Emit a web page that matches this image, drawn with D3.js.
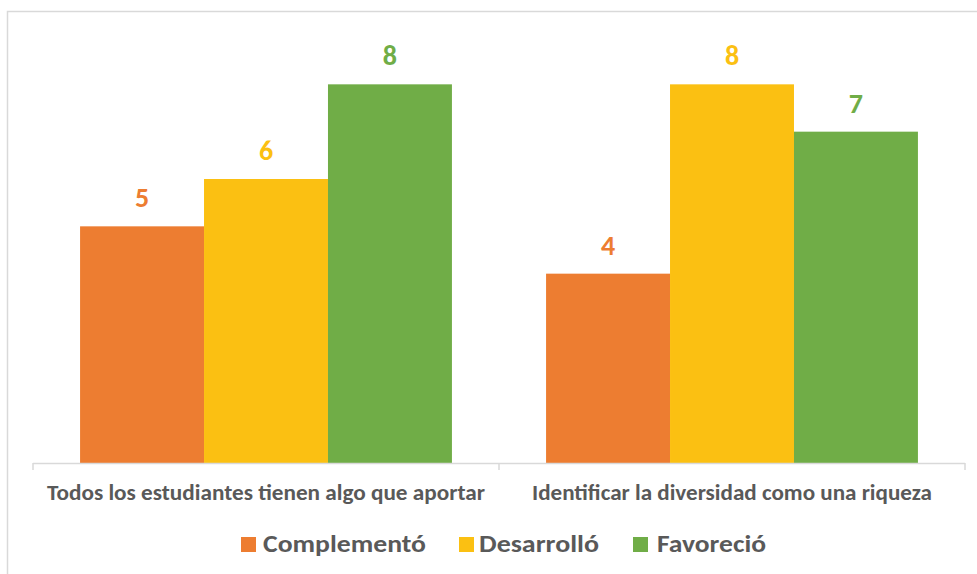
<!DOCTYPE html>
<html>
<head>
<meta charset="utf-8">
<script src="https://cdn.jsdelivr.net/npm/d3@7"></script>
<style>
  html, body { margin: 0; padding: 0; background: #ffffff; }
  svg { display: block; }
  text { font-family: Calibri, Carlito, "Open Sans", sans-serif; font-weight: 700; }
</style>
</head>
<body>
<svg id="chart" width="977" height="574"></svg>
<script>
// Categories, series and values
const categories = [
  "Todos los estudiantes tienen algo que aportar",
  "Identificar la diversidad como una riqueza"
];
const categoryWidths = [438, 400];
const seriesNames = ["Complementó", "Desarrolló", "Favoreció"];
const legendWidths = [163, 120, 109];
const seriesColors = ["#ED7D31", "#FBC012", "#70AD47"];
const complemento = [5, 4];
const desarrollo = [6, 8];
const favorecio = [8, 7];
const seriesValues = [complemento, desarrollo, favorecio];

const W = 977, H = 574;
const plot = { left: 33, right: 965, top: 37, bottom: 463 };
const textGray = "#595959";
const lineGray = "#D9D9D9";

const svg = d3.select("#chart");

// Outer chart frame
svg.append("rect")
  .attr("x", 7.5).attr("y", 11.5)
  .attr("width", W + 20).attr("height", H + 20)
  .attr("fill", "#ffffff")
  .attr("stroke", lineGray)
  .attr("stroke-width", 1.5);

const x0 = d3.scaleBand().domain(categories).range([plot.left, plot.right]).padding(0);
const gap = x0.bandwidth() * 0.101;
const x1 = d3.scaleBand().domain(seriesNames).range([gap, x0.bandwidth() - gap]).padding(0);
const y = d3.scaleLinear().domain([0, 9]).range([plot.bottom, plot.top]);

// Bars
const groups = svg.append("g").selectAll("g")
  .data(categories)
  .join("g")
  .attr("transform", d => `translate(${x0(d)},0)`);

groups.selectAll("rect")
  .data((c, ci) => seriesNames.map((s, si) => ({ s, si, v: seriesValues[si][ci] })))
  .join("rect")
  .attr("x", d => x1(d.s))
  .attr("y", d => y(d.v))
  .attr("width", x1.bandwidth())
  .attr("height", d => y(0) - y(d.v))
  .attr("fill", d => seriesColors[d.si]);

// Value labels
groups.selectAll("text.val")
  .data((c, ci) => seriesNames.map((s, si) => ({ s, si, v: seriesValues[si][ci] })))
  .join("text")
  .attr("class", "val")
  .attr("x", d => x1(d.s) + x1.bandwidth() / 2)
  .attr("y", d => y(d.v) - 19)
  .attr("text-anchor", "middle")
  .attr("font-size", 28)
  .attr("fill", d => seriesColors[d.si])
  .text(d => d.v);

// Category axis line
svg.append("line")
  .attr("x1", plot.left).attr("x2", plot.right)
  .attr("y1", plot.bottom + 0.5).attr("y2", plot.bottom + 0.5)
  .attr("stroke", lineGray).attr("stroke-width", 1.5);

// Tick marks at category boundaries
const boundaries = categories.map(c => x0(c)).concat([x0(categories[categories.length - 1]) + x0.bandwidth()]);
svg.selectAll("line.tick")
  .data(boundaries)
  .join("line")
  .attr("class", "tick")
  .attr("x1", d => d).attr("x2", d => d)
  .attr("y1", plot.bottom).attr("y2", plot.bottom + 7)
  .attr("stroke", lineGray).attr("stroke-width", 1.5);

svg.selectAll("text.cat")
  .data(categories)
  .join("text")
  .attr("class", "cat")
  .attr("x", d => x0(d) + x0.bandwidth() / 2)
  .attr("y", 500)
  .attr("text-anchor", "middle")
  .attr("font-size", 21.5)
  .attr("textLength", (d, i) => categoryWidths[i])
  .attr("lengthAdjust", "spacingAndGlyphs")
  .attr("fill", textGray)
  .text(d => d);

// Legend
const legendItems = [
  { sq: 241, tx: 263 },
  { sq: 459, tx: 479 },
  { sq: 633, tx: 657 }
];
const legend = svg.append("g");
seriesNames.forEach((s, i) => {
  legend.append("rect")
    .attr("x", legendItems[i].sq).attr("y", 537)
    .attr("width", 15).attr("height", 15)
    .attr("fill", seriesColors[i]);
  legend.append("text")
    .attr("x", legendItems[i].tx).attr("y", 552)
    .attr("font-size", 25)
    .attr("textLength", legendWidths[i])
    .attr("lengthAdjust", "spacingAndGlyphs")
    .attr("fill", textGray)
    .text(s);
});
</script>
</body>
</html>
